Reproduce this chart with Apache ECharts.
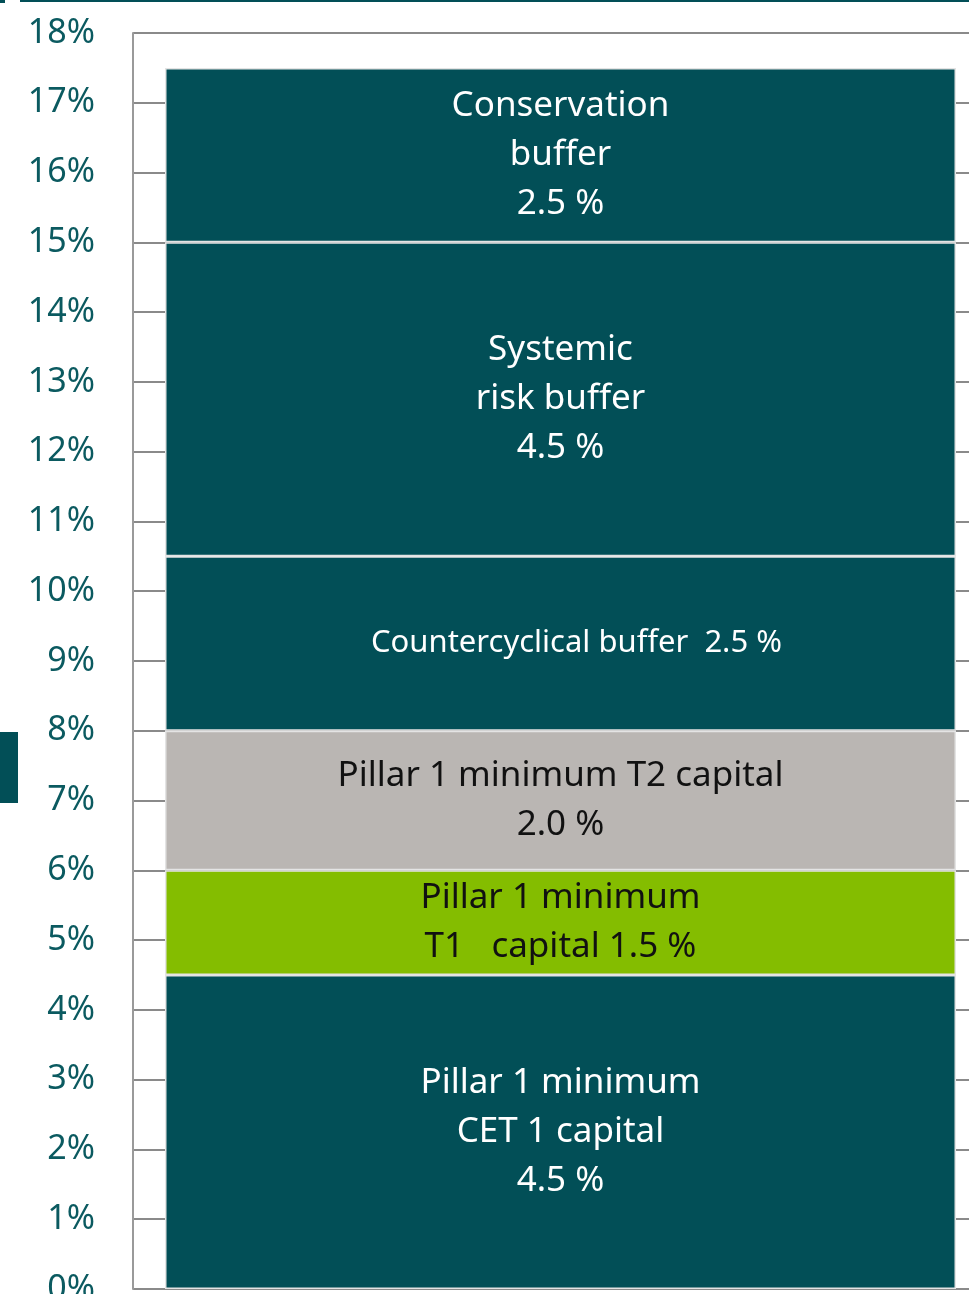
<!DOCTYPE html>
<html>
<head>
<meta charset="utf-8">
<script src="https://cdn.jsdelivr.net/npm/echarts@6/dist/echarts.min.js"></script>
<style>
    html, body { margin: 0; padding: 0; background: #fff; }
    #chart { width: 969px; height: 1294px; }
</style>
</head>
<body>
<div id="chart"></div>
<script>
// capital requirement layers, bottom to top
const layerNames = [
    "Pillar 1 minimum CET 1 capital",
    "Pillar 1 minimum T1 capital",
    "Pillar 1 minimum T2 capital",
    "Countercyclical buffer",
    "Systemic risk buffer",
    "Conservation buffer",
];
const layerValues = [4.5, 1.5, 2.0, 2.5, 4.5, 2.5];
const layerLabels = [
    "Pillar 1 minimum\nCET 1 capital\n4.5 %",
    "Pillar 1 minimum\nT1   capital 1.5 %",
    "Pillar 1 minimum T2 capital\n2.0 %",
    "Countercyclical buffer  2.5 %",
    "Systemic\nrisk buffer\n4.5 %",
    "Conservation\nbuffer\n2.5 %",
];
const yTicks = [0, 18, 1]; // min, max, step

const teal = "#024F57";
const layerColors = [teal, "#84BD00", "#BAB6B3", teal, teal, teal];
const labelColors = ["#fff", "#111", "#111", "#fff", "#fff", "#fff"];
const labelSizes = [35, 35, 35, 31, 35, 35];
const labelShift = [0, 0, 0, 16, 0, 0];

const chart = echarts.init(document.getElementById("chart"));

chart.setOption({
    animation: false,
    grid: {
        left: 133,
        top: 33,
        width: 855,
        bottom: 5,
        containLabel: false,
        outerBoundsMode: "none",
    },
    xAxis: {
        type: "category",
        data: ["Requirement"],
        axisLine: { show: false },
        axisTick: { show: false },
        axisLabel: { show: false },
    },
    yAxis: {
        type: "value",
        min: yTicks[0],
        max: yTicks[1],
        interval: yTicks[2],
        axisLine: {
            show: true,
            lineStyle: { color: "#9a9a9a", width: 2 },
        },
        axisTick: { show: false },
        splitLine: {
            lineStyle: { color: "#8a8a8a", width: 2 },
        },
        axisLabel: {
            formatter: "{value}%",
            color: "#0B5A60",
            fontFamily: "Noto Sans",
            fontSize: 34,
            margin: 38,
            padding: [0, 0, 8, 0],
        },
    },
    series: layerValues.map((v, i) => ({
        name: layerNames[i],
        type: "bar",
        stack: "total",
        barWidth: 791,
        data: [v],
        itemStyle: {
            color: layerColors[i],
            borderColor: "#e4e4e4",
            borderWidth: 1.5,
        },
        label: {
            show: true,
            position: "inside",
            offset: [labelShift[i], 0],
            formatter: layerLabels[i],
            color: labelColors[i],
            fontFamily: "Noto Sans",
            fontSize: labelSizes[i],
            lineHeight: 49,
            align: "center",
        },
    })),
    graphic: [
        {
            type: "rect",
            shape: { x: 20, y: 0, width: 949, height: 2 },
            style: { fill: teal },
        },
        {
            type: "rect",
            shape: { x: 0, y: 0, width: 5, height: 3 },
            style: { fill: teal },
        },
        {
            type: "rect",
            shape: { x: 0, y: 732, width: 18, height: 71 },
            style: { fill: teal },
        },
    ],
});
</script>
</body>
</html>
